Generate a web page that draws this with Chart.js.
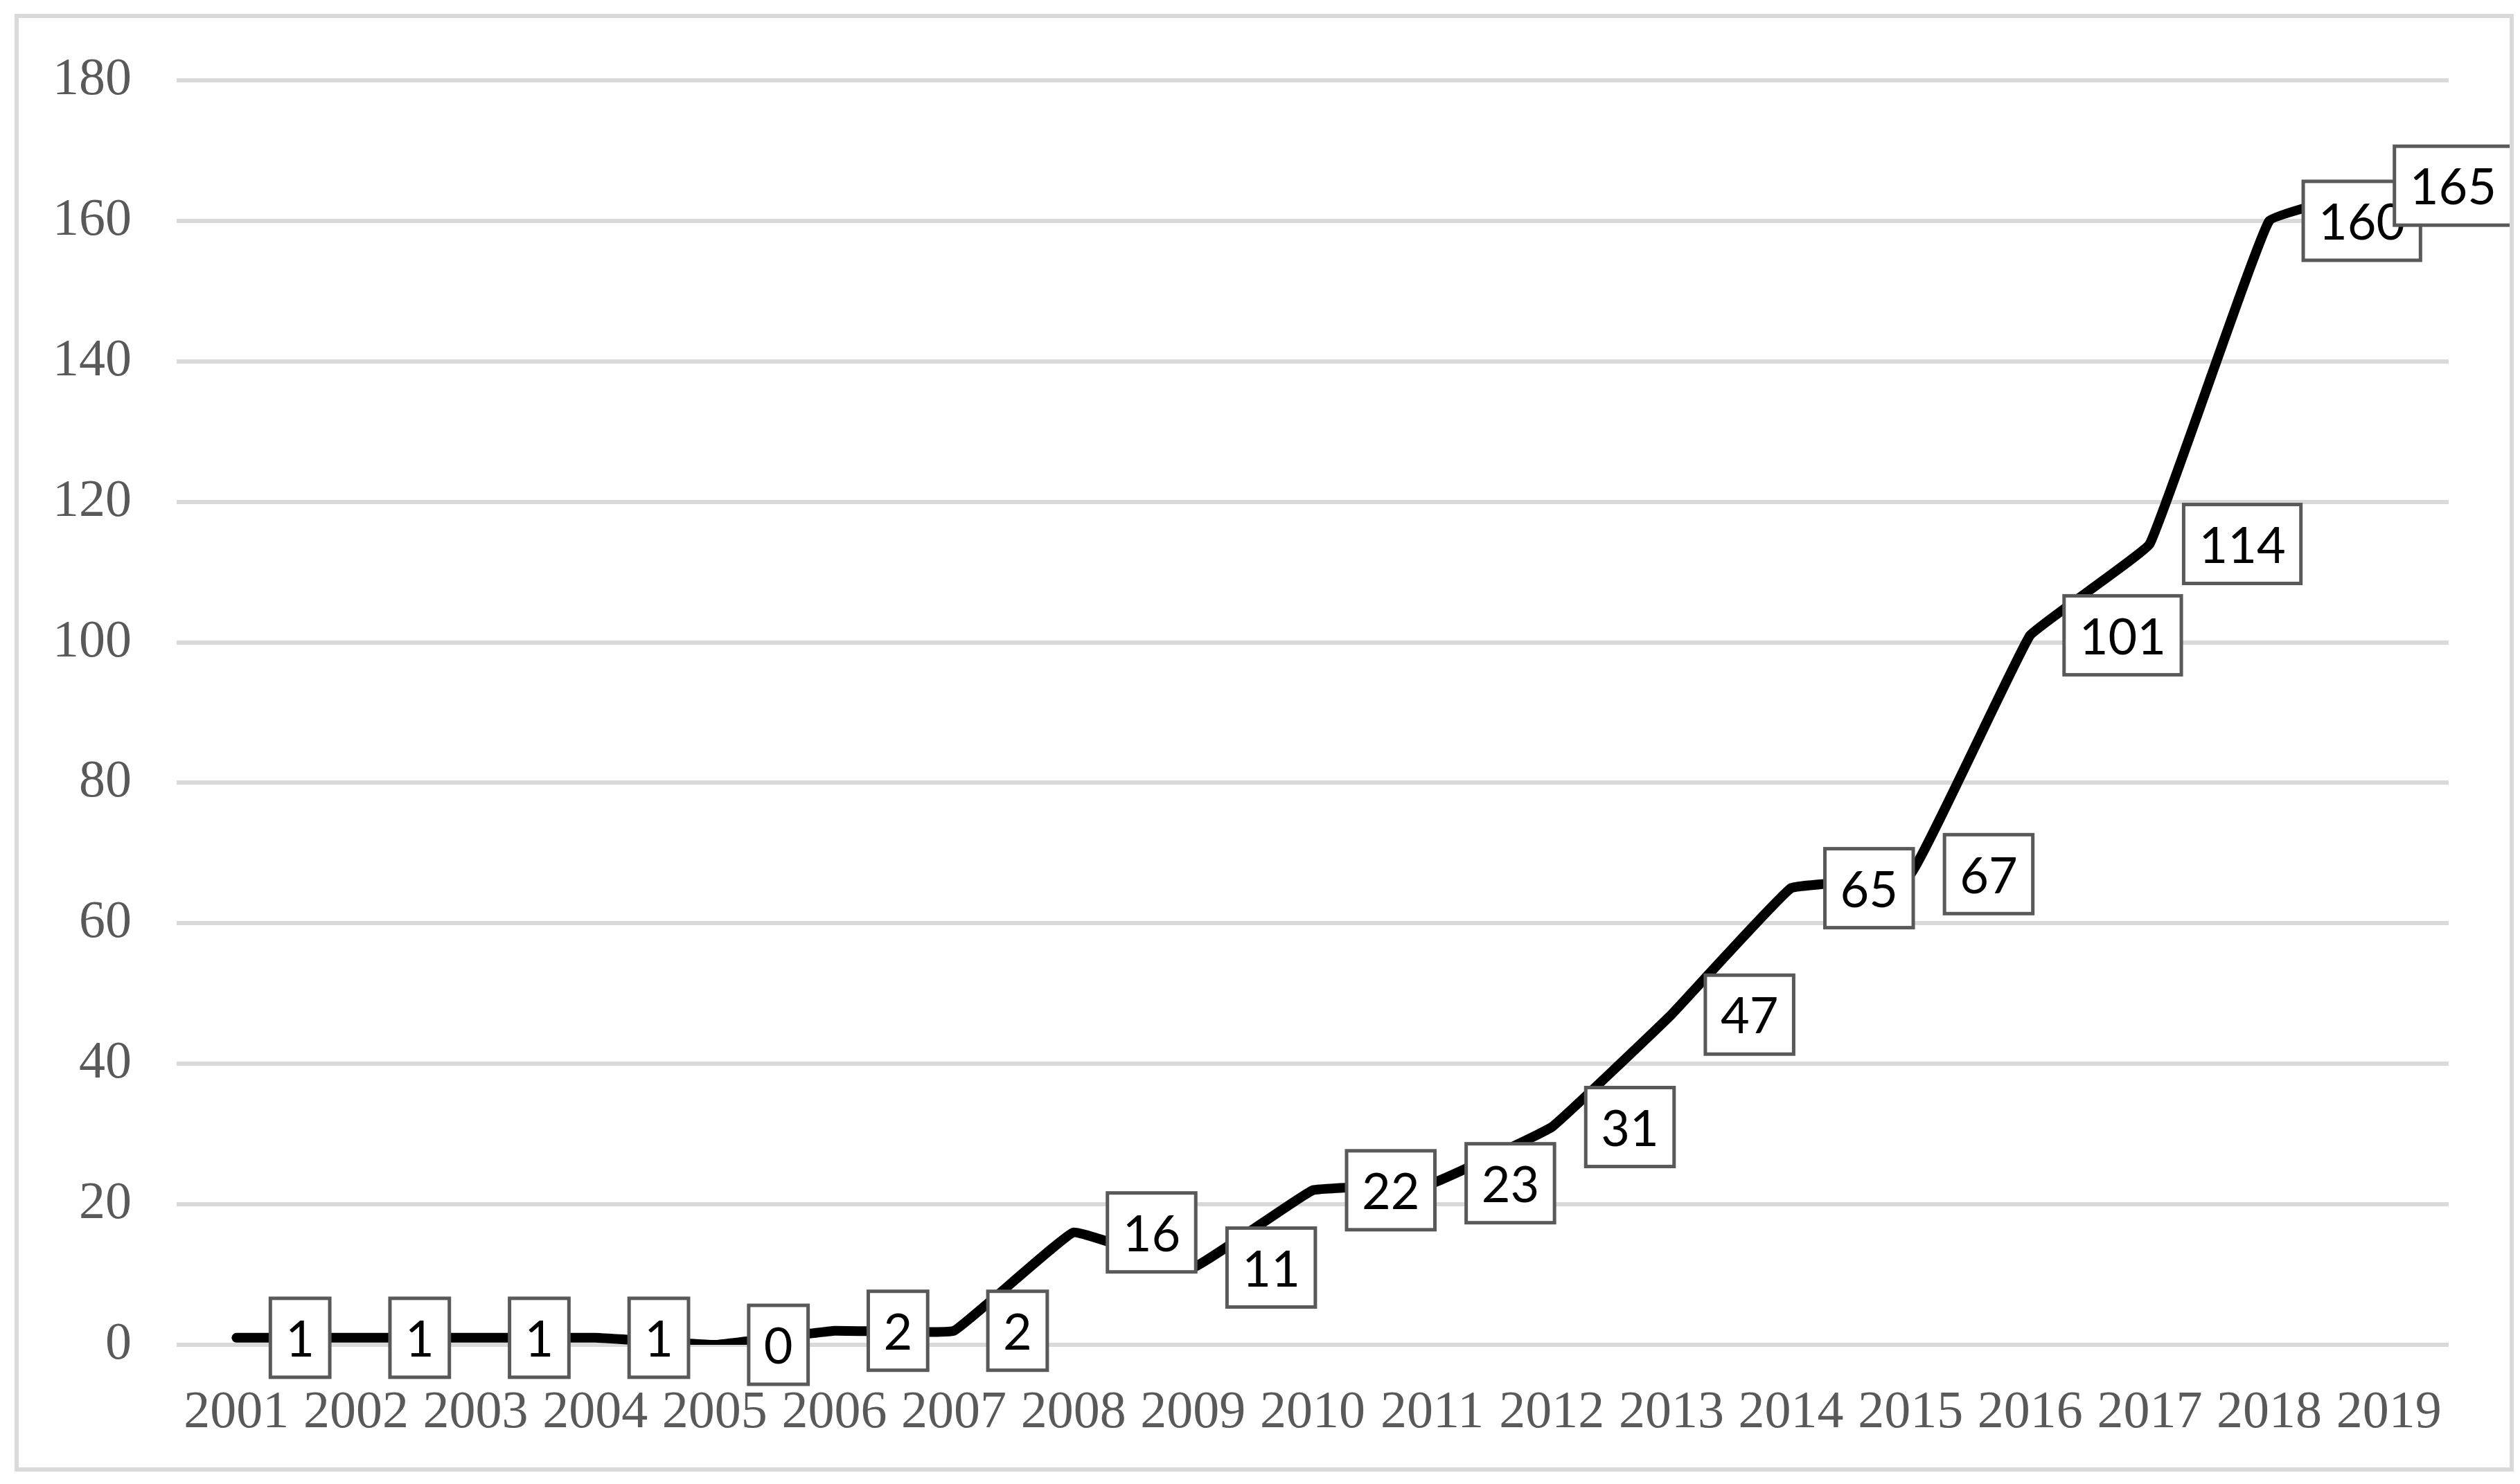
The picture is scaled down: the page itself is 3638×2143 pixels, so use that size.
<!DOCTYPE html>
<html>
<head>
<meta charset="utf-8">
<script src="https://cdn.jsdelivr.net/npm/chart.js@4/dist/chart.umd.min.js"></script>
<style>
  html, body { margin: 0; padding: 0; background: #fff; }
  canvas { display: block; }
</style>
</head>
<body>
<canvas id="chart" width="3638" height="2143"></canvas>
<script>
// data
const years = ['2001','2002','2003','2004','2005','2006','2007','2008','2009','2010',
               '2011','2012','2013','2014','2015','2016','2017','2018','2019'];
const counts = [1, 1, 1, 1, 0, 2, 2, 16, 11, 22, 23, 31, 47, 65, 67, 101, 114, 160, 165];
const yMin = 0;
const yMax = 180;
const yStep = 20;

const W = 3638, H = 2143;

// boxed value labels, placed to the right of each point (like Excel "Right")
const boxLabels = {
  id: 'boxLabels',
  afterDatasetsDraw(chart) {
    const ctx = chart.ctx;
    const meta = chart.getDatasetMeta(0);
    ctx.save();
    ctx.font = '72px Lato, "Noto Sans", sans-serif';
    ctx.textAlign = 'center';
    ctx.textBaseline = 'middle';
    meta.data.forEach((pt, i) => {
      const txt = String(counts[i]);
      const w = ctx.measureText(txt).width + 44;
      const h = 114;
      let left = pt.x + 49;
      if (left + w > W - 12) left = W - 12 - w;
      const top = pt.y - h / 2;
      ctx.fillStyle = '#fff';
      ctx.fillRect(left, top, w, h);
      ctx.lineWidth = 5;
      ctx.strokeStyle = '#595959';
      ctx.strokeRect(left, top, w, h);
      ctx.fillStyle = '#000';
      ctx.fillText(txt, left + w / 2, pt.y + 4);
    });
    ctx.restore();
  }
};

// light grey frame round the whole chart
const frame = {
  id: 'frame',
  afterDraw(chart) {
    const ctx = chart.ctx;
    ctx.save();
    ctx.strokeStyle = '#d9d9d9';
    ctx.lineWidth = 6;
    ctx.strokeRect(24, 23, W - 36, H - 44);
    ctx.restore();
  }
};

new Chart(document.getElementById('chart'), {
  type: 'line',
  data: {
    labels: years,
    datasets: [{
      data: counts,
      borderColor: '#000',
      borderWidth: 14,
      borderCapStyle: 'round',
      borderJoinStyle: 'round',
      pointRadius: 0,
      tension: 0.07,
      fill: false
    }]
  },
  options: {
    responsive: false,
    animation: false,
    devicePixelRatio: 1,
    layout: { padding: { left: 0, right: 103, top: 116, bottom: 0 } },
    plugins: { legend: { display: false }, tooltip: { enabled: false } },
    scales: {
      x: {
        offset: true,
        grid: { display: false, drawTicks: false },
        border: { display: false },
        ticks: {
          color: '#595959',
          font: { family: '"Liberation Serif", "Times New Roman", serif', size: 76 },
          padding: 53,
          maxRotation: 0,
          autoSkip: false
        },
        afterFit(s) { s.height = 201; }
      },
      y: {
        min: yMin,
        max: yMax,
        grid: { color: '#d9d9d9', lineWidth: 6, drawTicks: false },
        border: { display: false },
        ticks: {
          stepSize: yStep,
          color: '#595959',
          font: { family: '"Liberation Serif", "Times New Roman", serif', size: 76 },
          padding: 65
        },
        afterFit(s) { s.width = 255; }
      }
    }
  },
  plugins: [boxLabels, frame]
});
</script>
</body>
</html>
